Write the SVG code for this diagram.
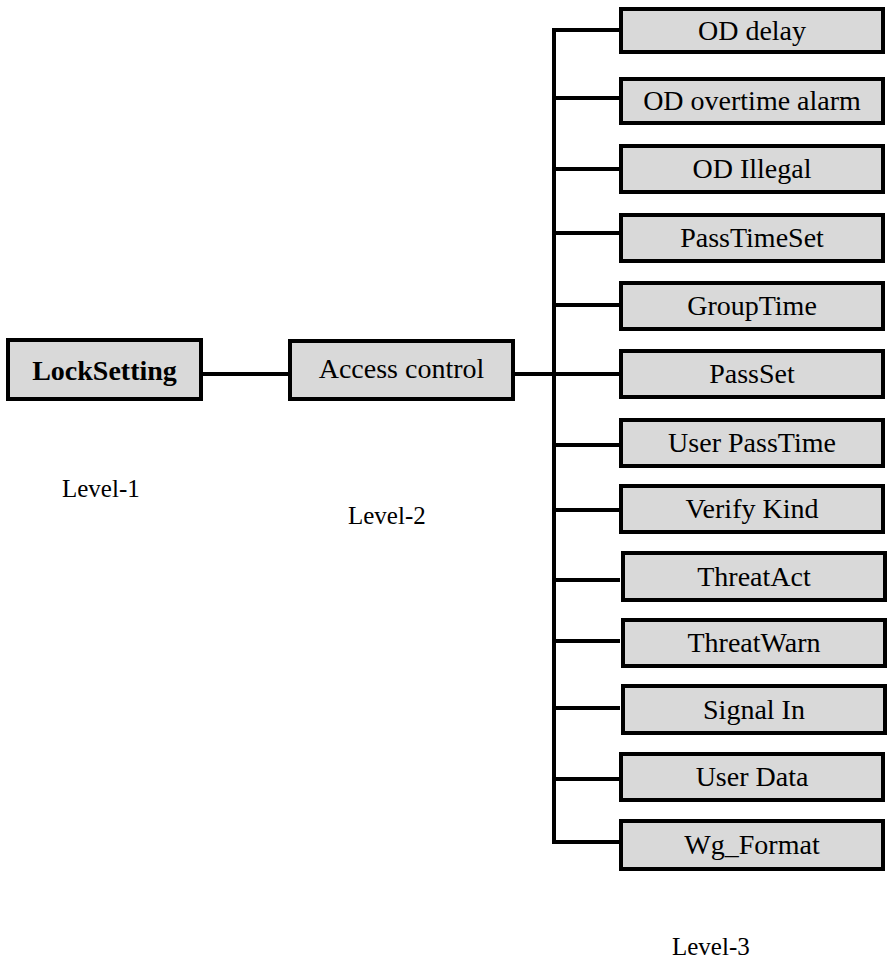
<svg xmlns="http://www.w3.org/2000/svg" width="891" height="963" viewBox="0 0 891 963">
<style>
.box{fill:#d9d9d9;stroke:#000;stroke-width:4}
.c{fill:none;stroke:#000;stroke-width:4}
</style>
<rect width="891" height="963" fill="#fff"/>
<g id="connectors">
<path class="c" d="M202,374 H289"/>
<path class="c" d="M514,374 H620"/>
<path class="c" d="M620,30 H554 V842 H620"/>
<path class="c" d="M554,98 H620 M554,169 H620 M554,233 H620 M554,305 H620 M554,445 H620 M554,510 H620 M554,580 H620 M554,641 H620 M554,708 H620 M554,779 H620"/>
</g>
<g font-family="Liberation Serif, Times New Roman, serif" font-size="28" fill="#000" text-anchor="middle">
<g id="lockSetting"><rect class="box" x="8" y="340" width="193" height="59"/><text x="104.5" y="380" font-weight="bold">LockSetting</text></g>
<g id="accessControl"><rect class="box" x="290" y="341" width="223" height="58"/><text x="401.5" y="378">Access control</text></g>
<g id="odDelay"><rect class="box" x="621" y="9" width="262" height="43"/><text x="752" y="40">OD delay</text></g>
<g id="odOvertimeAlarm"><rect class="box" x="621" y="79" width="262" height="44"/><text x="752" y="110">OD overtime alarm</text></g>
<g id="odIllegal"><rect class="box" x="621" y="146" width="262" height="46"/><text x="752" y="178">OD Illegal</text></g>
<g id="passTimeSet"><rect class="box" x="621" y="215" width="262" height="46"/><text x="752" y="247">PassTimeSet</text></g>
<g id="groupTime"><rect class="box" x="621" y="283" width="262" height="46"/><text x="752" y="315">GroupTime</text></g>
<g id="passSet"><rect class="box" x="621" y="351" width="262" height="46"/><text x="752" y="383">PassSet</text></g>
<g id="userPassTime"><rect class="box" x="621" y="420" width="262" height="46"/><text x="752" y="452">User PassTime</text></g>
<g id="verifyKind"><rect class="box" x="621" y="486" width="262" height="46"/><text x="752" y="518">Verify Kind</text></g>
<g id="threatAct"><rect class="box" x="623" y="553" width="262" height="47"/><text x="754" y="586">ThreatAct</text></g>
<g id="threatWarn"><rect class="box" x="623" y="620" width="262" height="46"/><text x="754" y="652">ThreatWarn</text></g>
<g id="signalIn"><rect class="box" x="623" y="686" width="262" height="47"/><text x="754" y="719">Signal In</text></g>
<g id="userData"><rect class="box" x="621" y="754" width="262" height="46"/><text x="752" y="786">User Data</text></g>
<g id="wgFormat"><rect class="box" x="621" y="821" width="262" height="48"/><text x="752" y="854">Wg_Format</text></g>
</g>
<g id="labels" font-family="Liberation Serif, Times New Roman, serif" font-size="25" fill="#000">
<text x="62" y="497">Level-1</text>
<text x="348" y="524">Level-2</text>
<text x="672" y="955">Level-3</text>
</g>
</svg>
